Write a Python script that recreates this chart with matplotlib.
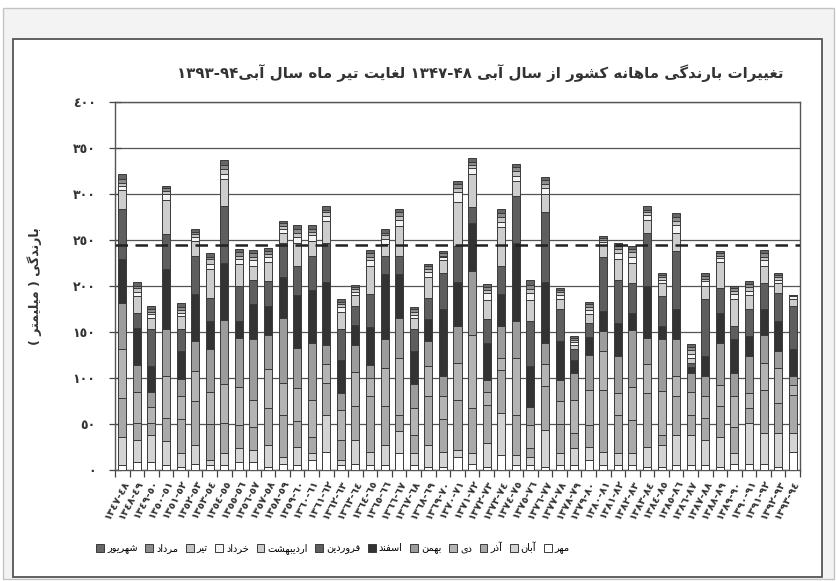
import re
import numpy as np
import matplotlib
matplotlib.use('Agg')
import matplotlib.pyplot as plt
from matplotlib.patches import Rectangle, Patch

# --- data (mm), one list per month, 47 water years 1347-48 .. 1393-94 ---
years = ['%d-%02d' % (y, (y + 1) % 100) for y in range(1347, 1394)]

mehr = [5.5, 9, 9, 5.5, 3.5, 7, 5.5, 5.5, 9, 9, 3.5, 7, 5.5, 11, 20, 5.5, 7, 5.5, 5.5, 18,
        5.5, 3.5, 3.5, 14.5, 7, 3.5, 16.5, 5.5, 5.5, 3.5, 5, 5, 11, 5.5, 5, 5, 3.5, 3.5, 5.5, 5.5,
        5.5, 3.5, 7, 7, 7, 3.5, 20]
aban = [30.5, 24, 29, 25.5, 14.5, 20, 5.5, 12.5, 15, 13, 23.5, 7.5, 19.5, 7, 40, 5.5, 26, 14.5, 21.5, 24,
        12.5, 23.5, 16.5, 7.5, 11, 25.5, 45.5, 11, 8.5, 40, 13, 18.5, 14, 14.5, 13, 13, 22, 23.5, 32.5, 32.5,
        27.5, 32.5, 11, 44, 33, 36.5, 20]
azar = [42, 18, 13, 25, 37, 48, 39, 33, 25, 25, 40, 45.5, 28, 18, 34.5, 22, 37, 60, 43, 18,
        20, 53, 35, 54, 49, 42, 47, 43.5, 9.5, 47.5, 32, 16.5, 24, 67, 42, 36.5, 58, 11, 42, 22,
        23, 34, 29, 16, 47, 32.5, 42]
dey = [53, 34, 17, 46, 25, 33, 35, 42, 41, 29, 43, 34.5, 36, 40, 20.5, 32, 37, 20, 41, 62,
       29, 33, 25, 40, 80, 14, 13, 62, 25.5, 24, 25, 36, 38, 42, 23.5, 35.5, 31.5, 47.5, 22, 25,
       24, 22.5, 33, 16.5, 29, 38.5, 10]
bahman = [51, 29.5, 17, 51, 19, 32, 46, 70, 53, 66, 37, 70.5, 44, 62, 21, 19, 29, 14.5, 31, 43,
          26, 27, 22, 40, 69, 13, 34, 40, 20, 23, 23, 29.5, 38.5, 22, 40, 62.5, 28.5, 56.5, 40, 20.5,
          22, 45.5, 25.5, 40, 31, 18, 10]
esfand = [47, 40, 28, 65, 30, 51, 31, 62, 19, 38, 31, 45, 57, 58, 68, 36, 22, 40.5, 71, 48,
          36, 24, 73, 48, 53, 40, 35, 85, 44, 66, 42, 14.5, 19.5, 22, 36.5, 18.5, 56.5, 14, 32.5, 6.5,
          21.5, 33, 36.5, 22, 27.5, 33, 29]
farvardin = [54.5, 16.5, 40, 38, 24, 42, 25, 62, 38, 27, 27, 37, 32, 37, 43, 33, 20, 36, 20, 20,
             24, 23, 39, 40, 16.5, 26, 31, 51, 49, 76, 34.5, 11, 15, 58, 47, 32.5, 58, 33, 63.5, 4,
             62, 27, 14, 29, 29, 30.5, 47]
ordibehesht = [21, 18, 12, 37, 14, 16, 31, 29, 24, 15, 21, 11, 25, 16, 24, 19, 12, 31, 13, 32,
               12, 23, 14, 47, 36.5, 21, 42, 16.5, 23, 20, 11.5, 5, 10, 14, 22, 21.5, 14, 14, 20, 6,
               14.5, 28, 30, 15.5, 18.5, 10.5, 8]
khordad = [4.5, 5, 5, 7, 4, 4, 6, 6, 5, 6, 5, 4, 6, 6, 5, 5, 4, 6, 5, 7,
           4, 5, 3, 11, 6, 7, 6, 5.5, 7, 6, 4, 3, 4, 3, 7, 7, 5, 4, 8, 4,
           5, 4, 5, 5, 6, 4, 3]
tir = [3.5, 4, 2, 3, 3, 3, 5, 5, 4, 4, 4, 3, 5, 4, 4, 3, 3, 4, 4, 4,
       3, 4, 2, 5, 3, 4, 5, 5, 5, 5, 3, 2, 3, 2, 4, 5, 3, 3, 5, 4,
       3, 3, 4, 4, 4, 3, 1]
mordad = [3.5, 2, 3, 3, 3, 3, 3, 5, 4, 4, 3, 3, 4, 3, 3, 3, 2, 4, 3, 4,
          3, 3, 3, 4, 4, 3, 4, 4, 4, 4, 3, 2.5, 3, 2, 3, 3.5, 3, 2, 4, 4,
          3, 2.5, 3, 3, 4, 2, 0]
shahrivar = [6, 4, 3, 3, 4, 3.5, 4, 5.5, 3.5, 3, 3.5, 2.5, 4, 4, 4, 3, 2, 3, 3.5, 3.5,
             2.5, 2, 2, 3.5, 4, 3, 4.5, 3.5, 5, 3, 2, 2.5, 2.5, 2.5, 3.5, 3, 3.5, 2.5, 4, 3.5,
             3, 2.5, 2.5, 3.5, 3, 2.5, 0]
mean_rain = 245

month_names = ['مهر', 'آبان', 'آذر', 'دی', 'بهمن', 'اسفند',
               'فروردین', 'اردیبهشت', 'خرداد', 'تیر', 'مرداد', 'شهریور']
month_colors = ['#ffffff', '#d4d4d4', '#a9a9a9', '#b4b4b4', '#9c9c9c', '#333333',
                '#5e5e5e', '#cdcdcd', '#f4f4f4', '#c6c6c6', '#8c8c8c', '#666666']
monthly = [mehr, aban, azar, dey, bahman, esfand, farvardin, ordibehesht,
           khordad, tir, mordad, shahrivar]

# --- minimal persian shaping (matplotlib has no bidi / joining) ---
FORMS = {
    'ا': ('\uFE8D', '\uFE8E', None, None), 'آ': ('\uFE81', '\uFE82', None, None),
    'ب': ('\uFE8F', '\uFE90', '\uFE91', '\uFE92'), 'ت': ('\uFE95', '\uFE96', '\uFE97', '\uFE98'),
    'خ': ('\uFEA5', '\uFEA6', '\uFEA7', '\uFEA8'), 'د': ('\uFEA9', '\uFEAA', None, None),
    'ذ': ('\uFEAB', '\uFEAC', None, None), 'ر': ('\uFEAD', '\uFEAE', None, None),
    'ز': ('\uFEAF', '\uFEB0', None, None), 'س': ('\uFEB1', '\uFEB2', '\uFEB3', '\uFEB4'),
    'ش': ('\uFEB5', '\uFEB6', '\uFEB7', '\uFEB8'), 'غ': ('\uFECD', '\uFECE', '\uFECF', '\uFED0'),
    'ف': ('\uFED1', '\uFED2', '\uFED3', '\uFED4'), 'ل': ('\uFEDD', '\uFEDE', '\uFEDF', '\uFEE0'),
    'م': ('\uFEE1', '\uFEE2', '\uFEE3', '\uFEE4'), 'ن': ('\uFEE5', '\uFEE6', '\uFEE7', '\uFEE8'),
    'ه': ('\uFEE9', '\uFEEA', '\uFEEB', '\uFEEC'), 'و': ('\uFEED', '\uFEEE', None, None),
    'ی': ('\uFBFC', '\uFBFD', '\uFBFE', '\uFBFF'), 'ک': ('\uFB8E', '\uFB8F', '\uFB90', '\uFB91'),
    'گ': ('\uFB92', '\uFB93', '\uFB94', '\uFB95'),
}


def fa(s):
    out = []
    for i, ch in enumerate(s):
        if ch not in FORMS:
            out.append(ch)
            continue
        prev = s[i - 1] if i > 0 else ''
        nxt = s[i + 1] if i + 1 < len(s) else ''
        joins_prev = prev in FORMS and FORMS[prev][2] is not None
        dual = FORMS[ch][2] is not None
        joins_next = dual and nxt in FORMS
        if joins_prev and joins_next:
            out.append(FORMS[ch][3])
        elif joins_prev:
            out.append(FORMS[ch][1])
        elif joins_next:
            out.append(FORMS[ch][2])
        else:
            out.append(FORMS[ch][0])
    vis = ''.join(out)[::-1]
    vis = re.sub(r'[0-9۰-۹٠-٩][0-9۰-۹٠-٩\-]*', lambda m: m.group(0)[::-1], vis)
    return vis.translate(str.maketrans('()', ')('))


ar_digits = str.maketrans('0123456789', '٠١٢٣٤٥٦٧٨٩')

fig = plt.figure(figsize=(8.37, 5.81), dpi=100, facecolor='white')
fig.patches.append(Rectangle((3 / 837, 2 / 581), 831 / 837, 571 / 581, transform=fig.transFigure,
                             facecolor='#f3f3f3', edgecolor='#c4c4c4', lw=1.0, zorder=-20))
fig.patches.append(Rectangle((13 / 837, 4 / 581), 809 / 837, 538 / 581, transform=fig.transFigure,
                             facecolor='white', edgecolor='#555555', lw=1.3, zorder=-10))

ax = fig.add_axes([115 / 837, 111 / 581, 685 / 837, 368 / 581])
ax.set_zorder(5)
x = np.arange(len(years))
bottom = np.zeros(len(years))
for vals, col in zip(monthly, month_colors):
    vals = np.array(vals, dtype=float)
    ax.bar(x, vals, 0.55, bottom=bottom, color=col, edgecolor='#3a3a3a', linewidth=0.7, zorder=3)
    bottom += vals

ax.axhline(mean_rain, color='#222222', ls=(0, (5, 3)), lw=1.8, zorder=4)

ax.set_xlim(-0.5, len(years) - 0.5)
ax.set_ylim(0, 400)
ax.set_yticks(range(0, 401, 50))
ax.set_yticklabels([str(v).translate(ar_digits) for v in range(0, 401, 50)],
                   fontsize=9, fontweight='bold', color='#333333')
ax.yaxis.grid(True, color='#555555', lw=0.9, zorder=1)
ax.set_axisbelow(True)
ax.tick_params(axis='y', direction='inout', length=8, width=0.9, color='#444444', pad=10)

ax.set_xticks(x)
ax.set_xticklabels([y.translate(ar_digits) for y in years], rotation=62, ha='right',
                   rotation_mode='anchor', fontsize=7.5, fontweight='bold', color='#333333')
ax.tick_params(axis='x', length=0, pad=6)
ax.set_xticks(np.arange(-0.5, len(years), 1), minor=True)
ax.tick_params(axis='x', which='minor', direction='out', length=5, width=0.9, color='#444444')

for sp in ax.spines.values():
    sp.set_color('#555555')
    sp.set_linewidth(1.0)

ax.set_ylabel(fa('بارندگی ( میلیمتر )'), fontsize=9, fontweight='bold', color='#333333', labelpad=22)

fig.text(480 / 837, 1 - 73 / 581, fa('تغییرات بارندگی ماهانه کشور از سال آبی ۱۳۴۷-۴۸ لغایت تیر ماه سال آبی۱۳۹۳-۹۴'),
         ha='center', va='center', fontsize=10.8, fontweight='bold', color='#333333')

handles = [Patch(facecolor=c, edgecolor='#3a3a3a', lw=0.7) for c in month_colors][::-1]
labels = [fa(m) for m in month_names][::-1]
fig.legend(handles, labels, loc='center', bbox_to_anchor=(333 / 837, 1 - 548 / 581), ncol=12,
           frameon=False, fontsize=7, handlelength=0.8, handleheight=0.8, handletextpad=0.3,
           columnspacing=0.8)

fig.savefig('out.png', dpi=100, facecolor=fig.get_facecolor())
